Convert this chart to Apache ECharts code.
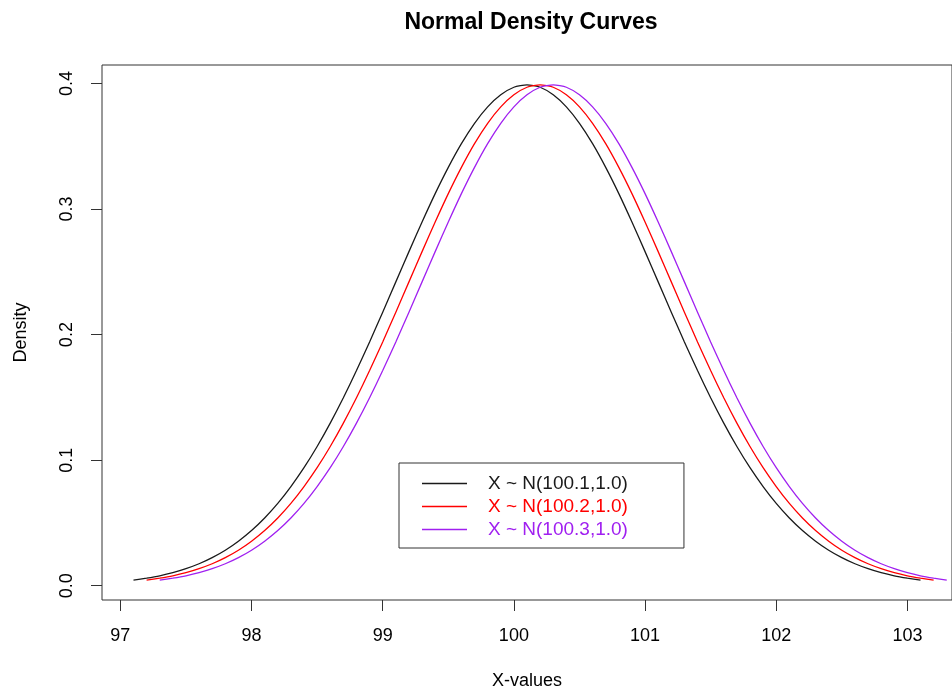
<!DOCTYPE html>
<html>
<head>
<meta charset="utf-8">
<script src="https://cdn.jsdelivr.net/npm/echarts@6/dist/echarts.min.js"></script>
<style>
html,body{margin:0;padding:0;background:#fff;}
#chart{width:952px;height:695px;}
</style>
</head>
<body>
<div id="chart"></div>
<script>
// ---- data ----
var seriesNames = ['X ~ N(100.1,1.0)', 'X ~ N(100.2,1.0)', 'X ~ N(100.3,1.0)'];
var xBlack = [97.1,97.2,97.3,97.4,97.5,97.6,97.7,97.8,97.9,98.0,98.1,98.2,98.3,98.4,98.5,98.6,98.7,98.8,98.9,99.0,99.1,99.2,99.3,99.4,99.5,99.6,99.7,99.8,99.9,100.0,100.1,100.2,100.3,100.4,100.5,100.6,100.7,100.8,100.9,101.0,101.1,101.2,101.3,101.4,101.5,101.6,101.7,101.8,101.9,102.0,102.1,102.2,102.3,102.4,102.5,102.6,102.7,102.8,102.9,103.0,103.1];
var xRed = [97.2,97.3,97.4,97.5,97.6,97.7,97.8,97.9,98.0,98.1,98.2,98.3,98.4,98.5,98.6,98.7,98.8,98.9,99.0,99.1,99.2,99.3,99.4,99.5,99.6,99.7,99.8,99.9,100.0,100.1,100.2,100.3,100.4,100.5,100.6,100.7,100.8,100.9,101.0,101.1,101.2,101.3,101.4,101.5,101.6,101.7,101.8,101.9,102.0,102.1,102.2,102.3,102.4,102.5,102.6,102.7,102.8,102.9,103.0,103.1,103.2];
var xPurple = [97.3,97.4,97.5,97.6,97.7,97.8,97.9,98.0,98.1,98.2,98.3,98.4,98.5,98.6,98.7,98.8,98.9,99.0,99.1,99.2,99.3,99.4,99.5,99.6,99.7,99.8,99.9,100.0,100.1,100.2,100.3,100.4,100.5,100.6,100.7,100.8,100.9,101.0,101.1,101.2,101.3,101.4,101.5,101.6,101.7,101.8,101.9,102.0,102.1,102.2,102.3,102.4,102.5,102.6,102.7,102.8,102.9,103.0,103.1,103.2,103.3];
var densityBlack = [0.0044,0.0060,0.0079,0.0104,0.0136,0.0175,0.0224,0.0283,0.0355,0.0440,0.0540,0.0656,0.0790,0.0940,0.1109,0.1295,0.1497,0.1714,0.1942,0.2179,0.2420,0.2661,0.2897,0.3123,0.3332,0.3521,0.3683,0.3814,0.3910,0.3970,0.3989,0.3970,0.3910,0.3814,0.3683,0.3521,0.3332,0.3123,0.2897,0.2661,0.2420,0.2179,0.1942,0.1714,0.1497,0.1295,0.1109,0.0940,0.0790,0.0656,0.0540,0.0440,0.0355,0.0283,0.0224,0.0175,0.0136,0.0104,0.0079,0.0060,0.0044];
var densityRed = [0.0044,0.0060,0.0079,0.0104,0.0136,0.0175,0.0224,0.0283,0.0355,0.0440,0.0540,0.0656,0.0790,0.0940,0.1109,0.1295,0.1497,0.1714,0.1942,0.2179,0.2420,0.2661,0.2897,0.3123,0.3332,0.3521,0.3683,0.3814,0.3910,0.3970,0.3989,0.3970,0.3910,0.3814,0.3683,0.3521,0.3332,0.3123,0.2897,0.2661,0.2420,0.2179,0.1942,0.1714,0.1497,0.1295,0.1109,0.0940,0.0790,0.0656,0.0540,0.0440,0.0355,0.0283,0.0224,0.0175,0.0136,0.0104,0.0079,0.0060,0.0044];
var densityPurple = [0.0044,0.0060,0.0079,0.0104,0.0136,0.0175,0.0224,0.0283,0.0355,0.0440,0.0540,0.0656,0.0790,0.0940,0.1109,0.1295,0.1497,0.1714,0.1942,0.2179,0.2420,0.2661,0.2897,0.3123,0.3332,0.3521,0.3683,0.3814,0.3910,0.3970,0.3989,0.3970,0.3910,0.3814,0.3683,0.3521,0.3332,0.3123,0.2897,0.2661,0.2420,0.2179,0.1942,0.1714,0.1497,0.1295,0.1109,0.0940,0.0790,0.0656,0.0540,0.0440,0.0355,0.0283,0.0224,0.0175,0.0136,0.0104,0.0079,0.0060,0.0044];
var xTicks = [97, 98, 99, 100, 101, 102, 103];
var yTicks = [0, 0.1, 0.2, 0.3, 0.4];

// ---- chart ----
function pairs(xs, ys) { return xs.map(function (x, i) { return [x, ys[i]]; }); }
var FONT = "'Liberation Sans', Arial, Helvetica, sans-serif";
var colors = ['#1a1a1a', '#ff0000', '#a020f0'];
var chart = echarts.init(document.getElementById('chart'), null, {renderer: 'canvas'});
var option = {
  animation: false,
  backgroundColor: '#ffffff',
  textStyle: {fontFamily: FONT},
  title: {
    text: 'Normal Density Curves',
    left: 526, top: 6, textAlign: 'center',
    textStyle: {fontFamily: FONT, fontWeight: 'bold', fontSize: 23, color: '#000'}
  },
  grid: {
    left: 102, top: 65, width: 859, height: 539,
    show: true, borderColor: '#333', borderWidth: 1, backgroundColor: 'transparent',
    containLabel: false
  },
  legend: {
    orient: 'vertical', left: 399, top: 463,
    padding: [11, 56, 9, 23],
    borderColor: '#333', borderWidth: 1, backgroundColor: '#fff',
    icon: 'path://M0,0L45,0L45,1.3L0,1.3Z',
    itemWidth: 45, itemHeight: 14, itemGap: 4,
    selectedMode: false,
    formatter: '{t|{name}}',
    textStyle: {fontFamily: FONT, fontSize: 19, rich: {t: {fontFamily: FONT, fontSize: 19, padding: [0, 0, 0, 16]}}},
    data: [
      {name: seriesNames[0], textStyle: {color: colors[0]}},
      {name: seriesNames[1], textStyle: {color: colors[1]}},
      {name: seriesNames[2], textStyle: {color: colors[2]}}
    ]
  },
  xAxis: {
    type: 'value', min: 96.86, max: 103.34,
    name: 'X-values', nameLocation: 'middle', nameGap: 72,
    nameTextStyle: {fontFamily: FONT, fontSize: 18, color: '#000'},
    axisLine: {show: false, onZero: false},
    axisTick: {show: true, length: 11, customValues: xTicks, lineStyle: {color: '#333', width: 1}},
    axisLabel: {show: true, customValues: xTicks, margin: 27, fontFamily: FONT, fontSize: 18, color: '#000'},
    splitLine: {show: false}
  },
  yAxis: {
    type: 'value', min: -0.01135, max: 0.41472,
    name: 'Density', nameLocation: 'middle', nameGap: 72,
    nameTextStyle: {fontFamily: FONT, fontSize: 18, color: '#000'},
    axisLine: {show: false, onZero: false},
    axisTick: {show: true, length: 11, customValues: yTicks, lineStyle: {color: '#333', width: 1}},
    axisLabel: {show: true, customValues: yTicks, rotate: 90, margin: 26, fontFamily: FONT, fontSize: 18, color: '#000',
      formatter: function (v) { return v.toFixed(1); }},
    splitLine: {show: false}
  },
  series: [
    {name: seriesNames[0], type: 'line', data: pairs(xBlack, densityBlack), symbol: 'none', smooth: 0.2,
      lineStyle: {color: colors[0], width: 1.3}, itemStyle: {color: colors[0]}},
    {name: seriesNames[1], type: 'line', data: pairs(xRed, densityRed), symbol: 'none', smooth: 0.2,
      lineStyle: {color: colors[1], width: 1.3}, itemStyle: {color: colors[1]}},
    {name: seriesNames[2], type: 'line', data: pairs(xPurple, densityPurple), symbol: 'none', smooth: 0.2,
      lineStyle: {color: colors[2], width: 1.3}, itemStyle: {color: colors[2]}}
  ]
};
chart.setOption(option);
</script>
</body>
</html>
